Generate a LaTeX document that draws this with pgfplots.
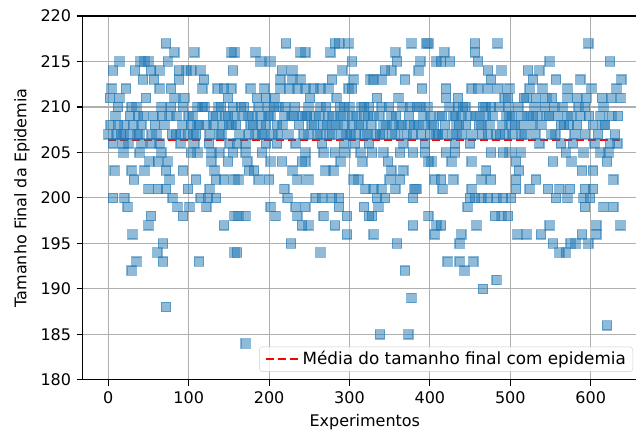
\documentclass[border=0pt]{standalone}
\usepackage{pgfplots}
\pgfplotsset{compat=1.18}
\usepackage{pgfplotstable}
\usepackage{fontspec}
\setmainfont{DejaVu Sans}
\definecolor{tabblue}{RGB}{31,119,180}
\definecolor{gridgray}{HTML}{B0B0B0}
\pgfplotstableread{
x y
0 207
2 211
4 212
6 214
6 206
6 200
8 203
10 207
12 210
12 208
14 215
14 211
19 207
19 206
19 205
20 208
20 200
22 212
24 199
27 209
27 207
29 210
29 203
29 192
30 196
32 202
33 214
35 210
35 193
37 209
39 207
39 205
40 215
41 208
41 206
43 213
45 215
45 203
50 215
50 201
50 197
51 204
53 214
53 198
54 207
54 206
56 209
57 213
62 204
62 201
64 214
64 212
64 206
66 210
66 205
68 195
68 193
61 194
72 217
72 203
72 201
72 188
74 215
74 204
76 209
76 202
78 212
78 210
80 200
82 216
82 211
84 207
86 199
88 214
88 213
90 207
90 206
93 210
93 203
93 198
97 214
99 207
99 201
101 199
103 214
103 208
103 205
105 209
107 216
107 206
109 207
109 202
111 210
111 208
111 205
113 193
115 214
115 200
117 212
117 210
119 213
122 208
122 199
124 200
126 207
126 201
128 205
128 204
130 209
132 203
134 209
134 202
134 200
136 212
138 207
138 205
140 210
142 208
144 212
144 202
144 197
149 211
149 209
149 204
151 206
153 216
153 212
153 208
155 214
155 210
155 205
157 216
157 209
157 202
157 198
157 194
160 206
160 194
162 202
162 198
165 210
167 209
171 206
171 205
171 198
171 184
173 204
175 207
175 203
177 212
177 208
179 209
181 203
183 216
183 207
187 210
187 202
189 215
189 209
191 207
191 205
194 212
196 211
196 208
196 206
198 210
200 202
202 215
202 209
202 204
202 199
206 210
208 198
210 208
210 206
212 210
214 213
214 212
216 214
216 204
219 209
219 201
221 217
223 200
225 212
227 195
229 214
229 213
229 203
231 209
233 206
233 199
235 212
235 202
235 198
239 216
239 213
241 209
241 204
241 197
245 216
245 212
245 209
245 205
245 204
245 199
249 210
249 207
249 202
249 197
253 208
255 212
258 209
258 200
264 212
264 210
264 207
264 194
266 206
266 200
268 205
268 198
270 203
272 208
274 212
274 209
276 216
278 213
278 207
278 200
280 208
280 203
282 217
282 205
282 197
284 211
287 217
287 200
287 199
289 209
289 204
291 214
291 207
293 210
293 208
293 206
295 205
297 198
297 196
299 217
299 212
301 207
303 215
303 212
303 208
305 213
305 202
307 206
309 209
311 202
314 205
316 208
316 204
318 210
318 209
318 199
320 201
322 207
324 210
324 206
324 198
326 213
328 205
328 198
330 213
330 209
330 201
330 196
334 211
334 200
336 199
338 207
338 185
340 213
340 210
340 201
342 208
342 205
344 214
344 200
348 204
350 202
352 214
352 209
352 203
355 208
357 216
357 207
357 201
359 215
359 195
361 211
363 205
363 202
365 208
367 206
367 203
369 213
369 192
373 185
375 210
375 208
377 217
377 189
379 207
379 205
379 200
379 197
381 201
383 201
386 214
386 208
388 215
388 210
390 212
392 209
394 206
394 205
396 217
398 217
398 204
398 198
400 207
402 208
402 204
406 202
406 196
408 215
408 207
408 197
412 209
414 215
414 202
414 197
416 207
416 201
418 216
420 212
420 211
420 205
422 193
425 215
427 204
429 209
429 202
431 206
431 205
433 208
433 207
435 211
435 210
437 195
437 193
439 209
439 196
441 210
443 192
445 208
447 199
450 206
450 200
452 212
452 204
452 201
454 193
456 217
456 216
456 200
458 197
460 215
460 212
462 209
464 208
464 202
464 200
466 210
466 190
470 209
470 203
472 214
472 212
472 207
472 200
476 213
476 210
476 205
476 202
481 198
483 200
483 191
484 217
485 212
487 207
489 214
489 198
491 205
491 200
493 211
495 209
497 211
497 198
499 212
499 209
499 208
499 205
501 200
503 207
507 204
507 202
507 201
509 196
511 203
513 208
513 205
515 209
518 207
520 211
520 196
522 214
524 212
524 201
528 213
528 209
530 210
532 211
532 202
536 214
536 206
538 196
540 212
545 211
545 209
547 201
549 215
549 197
551 207
553 204
553 195
555 210
557 213
557 200
561 201
561 194
563 208
563 206
569 205
569 194
571 212
571 211
571 209
571 200
573 208
574 201
575 195
576 209
576 204
578 206
581 195
583 211
583 208
587 213
587 209
589 203
589 196
591 205
591 200
593 210
593 207
593 201
593 199
595 211
597 217
597 195
599 200
601 212
603 208
603 203
603 201
605 206
607 197
607 196
612 209
612 205
616 210
616 208
616 199
620 204
620 186
622 205
624 215
624 206
626 211
626 209
628 202
628 199
630 207
632 212
634 209
637 211
637 197
638 213
3 208
9 209
16 207
25 206
31 208
36 207
44 209
47 211
58 208
60 207
67 209
70 208
79 207
85 209
92 208
95 211
100 209
106 207
113 208
120 210
125 206
131 208
137 210
141 207
146 209
150 208
159 208
163 207
169 210
174 209
180 208
185 211
190 208
193 207
199 209
204 207
207 211
211 207
217 208
220 210
224 207
228 209
232 210
237 208
243 207
247 209
251 211
256 208
260 207
262 209
267 208
271 210
275 207
279 209
285 208
288 210
292 209
296 207
300 210
304 209
308 207
312 208
315 210
319 207
323 209
327 208
332 207
337 209
341 207
346 208
349 210
353 207
358 209
362 208
366 210
371 207
374 209
380 208
384 210
389 207
393 208
397 210
401 209
405 208
410 207
415 209
419 208
424 210
428 207
432 209
436 208
440 207
444 210
448 209
453 207
457 209
461 208
465 207
469 210
474 208
478 209
482 207
486 210
490 208
494 207
498 210
502 209
506 208
510 210
514 207
517 211
521 209
526 208
531 207
534 209
539 208
543 210
548 209
552 211
556 207
559 209
565 210
567 208
580 207
585 210
598 209
609 207
614 211
618 208
633 206
}\datatable
\begin{document}
\fontsize{16}{19}\selectfont
\begin{tikzpicture}
\begin{axis}[
  scale only axis,
  width=564.6pt, height=364pt,
  xmin=-32, xmax=670, ymin=180, ymax=220,
  xtick={0,100,...,600}, ytick={180,185,...,220},
  grid=major,
  grid style={gridgray, line width=1.1pt},
  axis line style={black, line width=1.1pt},
  tick align=outside,
  major tick length=6pt,
  tick style={black, line width=1.1pt},
  xtick pos=bottom, ytick pos=left,
  /pgf/number format/assume math mode=true,
  /pgf/number format/1000 sep={},
  ticklabel style={font=\fontsize{16}{19}\selectfont},
  label style={font=\fontsize{16}{19}\selectfont},
  xlabel={Experimentos},
  ylabel={Tamanho Final da Epidemia},
  legend style={at={(1,0)}, anchor=south east, xshift=-14pt, yshift=8pt,
    draw=black!20, rounded corners=3pt, fill=white, fill opacity=0.8, text opacity=1,
    font=\fontsize{16.8}{19}\selectfont, inner xsep=5pt, inner ysep=2.5pt},
  legend cell align=left,
  legend image code/.code={\draw[#1] (0pt,0pt) -- (34pt,0pt);},
]
\addplot[red, line width=2.2pt, dash pattern=on 8pt off 4pt] coordinates {(0,206.4) (638,206.4)};
\addlegendentry{Média do tamanho final com epidemia}
\addplot[only marks, mark=square*, mark size=4.7pt, forget plot,
  mark options={draw=tabblue, fill=tabblue, fill opacity=0.5, draw opacity=0.5, line width=1.2pt}]
  table[x=x, y=y] {\datatable};
\end{axis}
\pgfresetboundingbox
\path[use as bounding box] ([xshift=-82.6pt,yshift=-56pt]current axis.south west) rectangle ([xshift=-11pt,yshift=16pt]current axis.north east);
\end{tikzpicture}
\end{document}
